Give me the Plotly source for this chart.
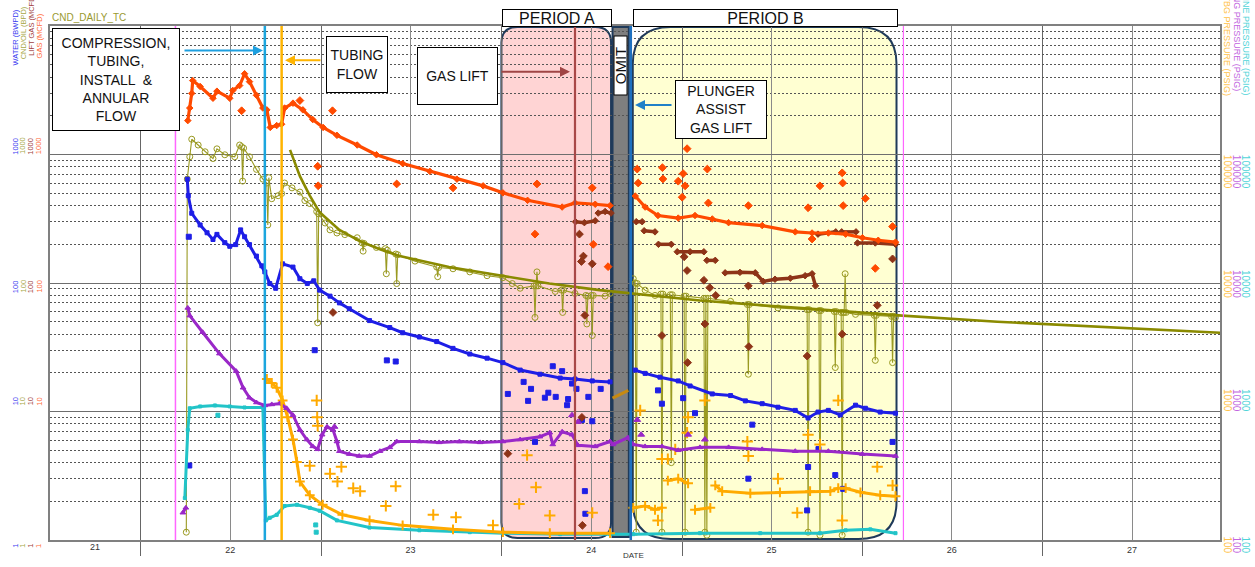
import plotly.graph_objects as go
import pandas as pd

# ---------------- data ----------------
# left axis: GAS (MCFD)
gas = [("2022-04-06",1835),("2022-04-10",2300),("2022-04-14",2990),("2022-04-16",3760),("2022-05-01",3380),
       ("2022-05-27",2740),("2022-06-04",3110),("2022-06-30",2740),("2022-07-06",3150),("2022-07-20",3440),
       ("2022-07-30",4250),("2022-08-09",3690),("2022-08-23",2890),("2022-09-05",2300),("2022-09-13",2225),
       ("2022-09-20",1625),("2022-10-03",1680),("2022-10-13",1720),("2022-10-19",2300),("2022-11-05",2510),
       ("2022-11-25",2225),("2022-12-15",1870),("2023-01-05",1625),("2023-02-02",1410),("2023-03-15",1185),
       ("2023-04-23",995),("2023-06-15",850),("2023-08-09",740),("2023-10-03",643),("2023-11-25",570),
       ("2024-01-04",503),("2024-02-23",440),("2024-05-03",390),("2024-05-29",420),("2024-07-09",410),
       ("2024-08-08",400),("2024-09-01",None),("2024-09-28",475),("2024-10-18",390),("2024-11-13",335),
       ("2024-12-24",320),("2025-01-27",335),("2025-03-03",315),("2025-04-05",295),("2025-06-12",280),
       ("2025-08-18",250),("2025-09-21",245),("2025-10-24",245),("2025-11-28",240),("2026-01-01",225),
       ("2026-02-02",215),("2026-03-09",208)]
gas_out = [("2022-07-24",2190),("2022-11-19",2630),("2022-12-25",810),("2022-12-26",571),("2023-01-24",2190),
           ("2023-06-03",590),("2023-09-25",550),("2024-03-13",590),("2024-03-09",240),("2024-07-03",550),
           ("2024-07-05",200),("2024-08-04",134),("2024-10-02",770),("2024-10-04",600),("2024-11-22",790),
           ("2024-11-23",645),("2024-12-24",620),("2025-01-01",465),("2025-01-03",710),("2025-01-07",570),
           ("2025-01-11",1110),("2025-02-21",770),("2025-02-23",420),("2025-05-15",400),("2025-09-13",385),
           ("2025-09-21",220),("2025-10-07",570),("2025-11-21",720),("2025-11-22",600),("2025-11-23",400),
           ("2026-01-07",455),("2026-01-27",130),("2026-03-03",275)]

# left axis: LIFT GAS (MCFD)
lift = [("2024-05-30",300),("2024-06-17",295),("2024-07-09",305),("2024-07-12",None),("2024-07-15",350),
        ("2024-07-29",360),("2024-08-10",350),("2024-09-01",None),("2024-09-30",300),("2024-10-12",300),
        ("2024-10-14",None),("2024-10-16",255),("2024-11-07",250),("2024-11-10",None),("2024-11-14",200),
        ("2024-12-10",200),("2024-12-18",None),("2024-12-22",175),("2025-01-17",175),("2025-02-14",175),
        ("2025-02-17",None),("2025-02-20",150),("2025-03-09",150),("2025-03-20",None),("2025-03-29",120),
        ("2025-04-28",121),("2025-05-29",120),("2025-06-14",103),("2025-07-08",107),("2025-08-08",109),
        ("2025-09-07",114),("2025-09-21",118),("2025-09-28",95),("2025-10-01",None),("2025-10-03",240),
        ("2025-11-08",250),("2025-11-12",None),("2025-11-20",250),("2025-12-19",250),("2025-12-20",None),
        ("2025-12-22",205),("2026-01-27",205),("2026-03-09",200)]
lift_out = [("2024-06-07",240),("2024-06-11",147),("2024-06-15",162),("2024-07-03",141),("2024-06-18",56),
            ("2024-06-12",9),("2024-01-14",4.7),("2024-06-13",1.3),("2025-01-05",160),("2025-01-11",125),
            ("2025-02-14",105),("2025-02-26",92),("2025-03-10",80),("2025-05-15",95),("2024-11-21",39),
            ("2025-01-12",24),("2025-02-16",48),("2025-05-16",32),("2025-09-11",27),("2025-11-21",40),
            ("2026-01-31",67),("2026-03-03",154),("2023-01-25",59)]

# left axis: CND/OIL (BPD)
oil = [("2022-04-03",1.15),("2022-04-05",643),("2022-04-10",960),("2022-04-14",1315),("2022-04-27",1185),
       ("2022-05-11",1050),("2022-05-27",930),("2022-06-04",1107),("2022-06-20",995),("2022-07-10",960),
       ("2022-07-20",1185),("2022-07-24",1150),("2022-07-26",621),("2022-07-28",1120),("2022-08-09",960),
       ("2022-08-23",766),("2022-09-05",643),("2022-09-13",600),("2022-09-15",283),("2022-09-17",660),
       ("2022-09-23",453),("2022-10-06",478),("2022-10-13",497),("2022-10-19",600),("2022-11-03",550),
       ("2022-11-19",510),("2022-11-29",438),("2022-12-09",415),("2022-12-23",360),("2022-12-25",49),
       ("2022-12-27",345),("2023-01-09",293),("2023-01-19",259),("2023-02-02",245),("2023-02-18",238),
       ("2023-03-15",225),("2023-03-25",205),("2023-03-27",177),("2023-03-29",203),("2023-04-23",189),
       ("2023-05-11",185),("2023-05-13",118),("2023-05-15",180),("2023-06-01",168),("2023-06-03",99),
       ("2023-06-05",166),("2023-07-10",148),("2023-08-23",133),("2023-08-25",112),("2023-08-27",132),
       ("2023-09-25",129),("2023-10-29",122),("2023-12-03",114),("2024-01-04",110),("2024-01-23",99),
       ("2024-02-08",91),("2024-03-07",95),("2024-03-09",54),("2024-03-11",95),("2024-03-13",122),
       ("2024-03-15",95),("2024-04-19",86),("2024-05-02",88),("2024-05-04",59),("2024-05-06",88),
       ("2024-05-29",83),("2024-06-20",80),("2024-06-22",48),("2024-06-24",79),("2024-07-01",80),
       ("2024-07-03",39),("2024-07-05",80),("2024-07-29",79),("2024-08-08",83),("2024-09-01",None),
       ("2024-09-24",108),("2024-09-28",100),("2024-09-30",1.15),("2024-10-02",99),("2024-10-18",88),
       ("2024-11-07",80),("2024-11-19",82),("2024-11-21",1.15),("2024-11-23",82),("2024-12-08",81),
       ("2024-12-10",4.0),("2024-12-12",81),("2025-01-05",79),("2025-01-07",1.15),("2025-01-09",79),
       ("2025-02-14",76),("2025-02-16",1.15),("2025-02-18",76),("2025-02-20",1.09),("2025-02-22",76),
       ("2025-04-09",72),("2025-05-13",68),("2025-05-15",19.5),("2025-05-17",68),("2025-07-14",64),
       ("2025-09-11",62),("2025-09-13",1.15),("2025-09-15",62),("2025-10-05",61),("2025-10-07",1.09),
       ("2025-10-09",61),("2025-11-05",60),("2025-11-07",22),("2025-11-09",60),("2025-11-19",59),
       ("2025-11-21",1.09),("2025-11-23",59),("2025-11-25",59),("2025-11-27",118),("2025-11-29",59),
       ("2025-12-18",57),("2026-01-25",56),("2026-01-27",25),("2026-01-29",56),("2026-03-01",55),
       ("2026-03-03",24),("2026-03-05",55),("2026-03-09",54)]

# left axis: CND_DAILY_TC type curve
tc = [("2022-10-30",1087),("2022-11-19",678),("2022-12-09",478),("2022-12-29",355),("2023-02-07",259),
      ("2023-03-21",211),("2023-04-30",183),("2023-06-09",162),("2023-09-17",133),("2023-12-29",114),
      ("2024-04-07",99),("2024-07-18",88),("2024-10-28",80),("2025-02-06",73),("2025-08-24",64),
      ("2026-03-15",56),("2026-10-01",50),("2027-04-18",46),("2027-12-26",41)]

# left axis: WATER (BWPD)
water = [("2022-04-05",643),("2022-04-07",478),("2022-04-14",349),("2022-05-01",283),("2022-05-15",246),
         ("2022-05-27",218),("2022-06-04",239),("2022-06-20",206),("2022-06-30",193),("2022-07-12",199),
         ("2022-07-22",259),("2022-07-30",229),("2022-08-09",199),("2022-08-23",162),("2022-09-03",136),
         ("2022-09-09",122),("2022-09-19",99),("2022-10-01",91),("2022-10-15",141),("2022-11-05",133),
         ("2022-11-19",108),("2022-12-04",99),("2022-12-17",104),("2022-12-29",88),("2023-01-19",79),
         ("2023-02-07",70),("2023-02-27",63),("2023-04-09",51),("2023-05-20",45),("2023-06-15",41),
         ("2023-07-19",38),("2023-08-23",35),("2023-09-25",31),("2023-10-29",28),("2023-12-03",26),
         ("2024-01-04",24),("2024-02-08",21),("2024-03-19",19.5),("2024-04-29",18.2),("2024-05-29",17.9),
         ("2024-07-03",17.3),("2024-08-08",17.0),("2024-09-01",None),("2024-09-28",21),("2024-10-18",19.8),
         ("2024-11-17",18.5),("2024-12-24",17.3),("2025-01-17",15.8),("2025-03-03",13.7),("2025-04-09",13.3),
         ("2025-05-09",12.1),("2025-06-12",11.5),("2025-07-14",10.8),("2025-08-18",10.2),("2025-09-13",8.9),
         ("2025-10-03",9.9),("2025-10-24",10.2),("2025-11-17",9.4),("2025-12-18",11.2),("2026-01-07",10.6),
         ("2026-02-06",9.9),("2026-03-09",9.7)]
water_out = [("2022-04-08",229),("2022-04-09",3.8),("2022-12-19",30),("2023-05-14",25),("2023-06-01",24.5),
             ("2024-01-14",13.7),("2024-02-15",17),("2024-02-24",12.1),("2024-03-01",15),("2024-03-09",5.8),
             ("2024-03-29",12.8),("2024-04-05",14),("2024-04-14",22.5),("2024-04-20",13),("2024-05-03",20.6),
             ("2024-05-13",11.2),("2024-05-15",12.5),("2024-05-23",16.5),("2024-06-01",15),("2024-06-12",8.6),
             ("2024-06-18",2.4),("2024-06-19",1.6),("2024-06-25",13),("2024-07-03",8.4),("2024-07-20",15),
             ("2024-11-13",14.6),("2024-11-21",11.5),("2025-01-03",12.7),("2025-01-27",9.7),("2025-05-15",3.0),
             ("2025-05-23",7.9),("2025-09-11",1.7),("2025-09-13",3.7),("2025-10-04",5.1),("2025-11-07",3.2),
             ("2025-11-23",2.5),("2026-03-03",5.8)]

# right axis: CASING PRESSURE (PSIG)
casing = [("2022-03-27",163),("2022-04-02",178),("2022-04-04",None),("2022-04-06",6400),("2022-04-10",5570),
          ("2022-05-06",4140),("2022-06-09",2820),("2022-07-13",2060),("2022-07-27",1530),("2022-08-09",1280),
          ("2022-08-23",1175),("2022-09-09",1115),("2022-09-23",1135),("2022-10-09",1155),("2022-10-23",1060),
          ("2022-11-05",936),("2022-11-19",720),("2022-12-03",605),("2022-12-15",535),("2022-12-25",508),
          ("2023-01-03",660),("2023-01-13",760),("2023-01-25",720),("2023-02-02",584),("2023-02-07",491),
          ("2023-02-27",466),("2023-03-19",450),("2023-04-09",450),("2023-04-30",491),("2023-05-20",526),
          ("2023-06-03",584),("2023-07-19",584),("2023-08-28",575),("2023-10-08",584),("2023-11-19",575),
          ("2024-01-04",584),("2024-02-08",605),("2024-03-19",637),("2024-04-08",684),("2024-04-14",554),
          ("2024-05-03",696),("2024-05-23",660),("2024-06-04",545),("2024-07-09",535),("2024-08-08",584),
          ("2024-08-14",554),("2024-09-13",627),("2024-09-24",554),("2024-10-18",535),("2024-11-21",535),
          ("2024-12-24",499),("2025-02-06",526),("2025-04-05",526),("2025-06-12",508),("2025-08-18",491),
          ("2025-10-24",491),("2026-01-01",466),("2026-03-09",450)]
casing_out = [("2024-05-23",936),("2024-06-04",830),("2024-10-02",860),("2024-10-10",660),("2025-01-13",660),
              ("2025-02-16",605),("2023-01-28",760)]

# right axis: TBG PRESSURE (PSIG)
tubing = [("2022-09-13",1790),("2022-09-23",1670),("2022-10-03",1530),("2022-10-15",1220),("2022-10-25",904),
          ("2022-11-05",605),("2022-11-13",405),("2022-11-19",285),("2022-12-09",223),("2023-01-04",188),
          ("2023-02-13",157),("2023-04-09",142),("2023-06-15",130),("2023-09-25",121),("2024-01-04",115),
          ("2024-04-08",113),("2024-08-08",113),("2024-09-01",None),("2024-09-24",178),("2024-10-18",184),
          ("2024-11-07",172),("2024-11-21",178),("2024-11-27",None),("2024-12-03",290),("2024-12-24",300),
          ("2025-01-13",276),("2025-01-20",None),("2025-01-27",172),("2025-02-27",178),("2025-03-04",None),
          ("2025-03-09",266),("2025-03-23",240),("2025-05-19",231),("2025-07-18",235),("2025-09-17",240),
          ("2025-10-28",240),("2025-11-13",253),("2025-11-28",253),("2025-12-28",235),("2026-02-06",223),
          ("2026-03-09",219)]
tubing_out = [("2022-12-23",1220),("2022-12-24",904),("2022-12-25",773),("2023-01-19",328),("2023-02-11",371),
              ("2023-02-03",285),("2022-12-09",378),("2023-03-07",253),("2023-03-21",240),("2023-06-01",262),
              ("2023-05-12",184),("2023-08-16",157),("2023-10-01",150),("2023-12-15",130),("2024-02-22",457),
              ("2024-03-11",257),("2024-02-06",191),("2024-04-08",155),("2024-07-03",163),("2024-10-08",1020),
              ("2024-12-03",427),("2024-12-18",508),("2025-01-11",684),("2025-01-13",904),("2025-02-16",1220),
              ("2025-05-13",584),("2025-05-15",450),("2025-07-14",300),("2025-08-22",163),("2025-09-13",660),
              ("2025-10-07",554),("2025-11-13",1220),("2025-11-21",142),("2026-01-31",371),("2026-03-03",266),
              ("2024-11-13",142),("2024-11-21",427)]

# right axis: LINE PRESSURE (PSIG)
linep = [("2022-03-31",212),("2022-04-06",720),("2022-04-10",1060),("2022-05-01",1095),("2022-05-31",1115),
         ("2022-06-30",1095),("2022-07-30",1075),("2022-09-05",1075),("2022-09-11",142),("2022-09-19",149),
         ("2022-10-03",157),("2022-10-19",184),("2022-11-13",188),("2022-12-09",178),("2022-12-29",169),
         ("2023-02-02",142),("2023-04-09",125),("2023-07-19",119),("2023-10-29",115),("2024-01-04",113),
         ("2024-04-29",111),("2024-08-08",111),("2024-09-24",111),("2025-02-06",113),("2025-06-08",113),
         ("2025-10-07",113),("2025-11-28",119),("2026-01-17",121),("2026-03-09",113)]
linep_out = [("2022-06-06",936),("2022-12-21",131),("2022-12-22",115)]

# short line drawn inside the omitted interval
omit_seg = [("2024-08-13",1270),("2024-09-14",1460)]

x_ticks = ["2022-07-01","2023-07-01","2024-07-01","2025-07-01","2026-07-01","2027-07-01"]
x_ticktext = ["22","23","24","25","26","27"]
year_lines = ["2022-01-01","2023-01-01","2024-01-01","2025-01-01","2026-01-01","2027-01-01"]
left_ticks = ["1000","100","10","1"]
right_ticks = ["100000","10000","1000","100"]

# ---------------- figure ----------------
FONT = "Liberation Sans, Arial, sans-serif"
W, H = 1255, 567
ML, MR, MT, MB = 50, 35, 26, 14
PW, PH = W - ML - MR, H - MT - MB
X0, X1 = "2021-07-01", "2027-12-26"
t0, t1 = pd.Timestamp(X0), pd.Timestamp(X1)


def split(pairs):
    return [p[0] for p in pairs], [p[1] for p in pairs]


def pxx(x):  # pixel -> paper x
    return (x - ML) / PW


def pxy(y):  # pixel -> paper y
    return (H - MB - y) / PH


def dx(d):  # date -> paper x
    return (pd.Timestamp(d) - t0) / (t1 - t0)


fig = go.Figure()


def add(pairs, color, symbol, size, lw, yaxis="y", mode="lines+markers", mline=1):
    d, v = split(pairs)
    fig.add_trace(go.Scatter(
        x=d, y=v, mode=mode, yaxis=yaxis, connectgaps=False, showlegend=False, hoverinfo="skip",
        line=dict(color=color, width=lw),
        marker=dict(color=color, symbol=symbol, size=size, line=dict(color=color, width=mline))))


C_GAS, C_LIFT, C_OIL, C_WAT = "#FF4A00", "#8E3418", "#9A9A22", "#1E1EE6"
C_CAS, C_TBG, C_LINE = "#9A28C8", "#FFAA00", "#22C4C8"

add(oil, C_OIL, "circle-open", 6, 1.1)
add(tc, "#8A8A00", "circle", 1, 2.6, mode="lines")
add(water, C_WAT, "square", 4, 3)
add(water_out, C_WAT, "square", 5, 0, mode="markers")
add(lift, C_LIFT, "diamond", 5, 3.5)
add(lift_out, C_LIFT, "diamond", 6, 0, mode="markers")
add(gas, C_GAS, "diamond", 5, 3.2)
add(gas_out, C_GAS, "diamond", 6, 0, mode="markers")
add(linep, C_LINE, "square", 3, 3, yaxis="y2")
add(linep_out, C_LINE, "square", 4, 0, yaxis="y2", mode="markers")
add(tubing, C_TBG, "cross-thin", 7, 3, yaxis="y2", mline=2)
add(tubing_out, C_TBG, "cross-thin", 8, 0, yaxis="y2", mode="markers", mline=2)
add(casing, C_CAS, "triangle-up", 5, 3, yaxis="y2")
add(casing_out, C_CAS, "triangle-up", 6, 0, yaxis="y2", mode="markers")
add(omit_seg, "#C88A10", "circle", 1, 3, yaxis="y2", mode="lines")

# DATE marker below axis
fig.add_trace(go.Scatter(x=["2024-09-24"], y=[0.93], mode="markers", cliponaxis=False,
                         marker=dict(symbol="triangle-up", size=13, color="#FF00FF"),
                         showlegend=False, hoverinfo="skip"))

minor_vals = [m * 10 ** e for e in range(0, 4) for m in range(2, 10)]

fig.update_layout(
    width=W, height=H, margin=dict(l=ML, r=MR, t=MT, b=MB),
    paper_bgcolor="white", plot_bgcolor="white", showlegend=False,
    font=dict(family=FONT, color="#333"),
    xaxis=dict(type="date", range=[X0, X1], tickmode="array", tickvals=x_ticks, ticktext=x_ticktext,
               ticks="", showgrid=True, gridcolor="#8a8a8a", gridwidth=1.3, zeroline=False,
               showline=True, linecolor="#808080", linewidth=2, mirror=True,
               tickfont=dict(size=9, color="#333"),
               minor=dict(tickmode="array", tickvals=year_lines, ticks="outside", ticklen=14,
                          tickcolor="#666", tickwidth=1, showgrid=True, gridcolor="#666", gridwidth=1)),
    yaxis=dict(type="log", range=[0, 4], tickmode="array", tickvals=[1, 10, 100, 1000, 10000],
               showticklabels=False, ticks="", showgrid=True, gridcolor="#6e6e6e", gridwidth=1.2,
               zeroline=False, showline=True, linecolor="#808080", linewidth=2, mirror=True,
               minor=dict(tickmode="array", tickvals=minor_vals, showgrid=True, gridcolor="#555",
                          griddash="2px,2px", gridwidth=1, ticks="")),
    yaxis2=dict(type="log", range=[2, 6], overlaying="y", side="right", showgrid=False,
                showticklabels=False, ticks="", zeroline=False, showline=False),
)


def rrect(xa, xb, ya, yb, r):
    rx, ry = r / PW, r / PH
    return (f"M {xa+rx},{yb} L {xb-rx},{yb} Q {xb},{yb} {xb},{yb-ry} "
            f"L {xb},{ya+ry} Q {xb},{ya} {xb-rx},{ya} L {xa+rx},{ya} "
            f"Q {xa},{ya} {xa},{ya+ry} L {xa},{yb-ry} Q {xa},{yb} {xa+rx},{yb} Z")


shapes = []
EDGE = "#1F3A5A"
shapes.append(dict(type="path", xref="paper", yref="paper", layer="below",
                   path=rrect(dx("2024-01-01"), dx("2024-08-10"), pxy(551), pxy(27), 16),
                   fillcolor="#FFD4D4", line=dict(color=EDGE, width=2)))
shapes.append(dict(type="path", xref="paper", yref="paper", layer="below",
                   path=rrect(dx("2024-09-23"), dx("2026-03-11"), pxy(552), pxy(27), 38),
                   fillcolor="#FFFFD2", line=dict(color=EDGE, width=2)))
shapes.append(dict(type="rect", xref="x", yref="paper", layer="between",
                   x0="2024-08-13", x1="2024-09-15", y0=pxy(550), y1=pxy(27),
                   fillcolor="#7f7f7f", line=dict(color=EDGE, width=2)))

vlines = [("2022-03-12", "#FF66FF", 1.5), ("2022-09-09", "#1CA6DE", 2.5), ("2022-10-13", "#FFB400", 2.5),
          ("2024-05-29", "#A84848", 2.2), ("2024-09-19", "#1E70C0", 2.5), ("2026-03-25", "#FF66FF", 1.2)]
for d, c, w in vlines:
    shapes.append(dict(type="line", xref="x", yref="paper", x0=d, x1=d, y0=0, y1=1,
                       line=dict(color=c, width=w), layer="above"))
fig.update_layout(shapes=shapes)

ann = []


def box(text, cx, cy, w, h, size=14, angle=0):
    ann.append(dict(text=text, x=pxx(cx), y=pxy(cy), xref="paper", yref="paper", showarrow=False,
                    xanchor="center", yanchor="middle", width=w, height=h, borderpad=0,
                    bgcolor="white", bordercolor="#000", borderwidth=1, textangle=angle,
                    font=dict(size=size, color="#111", family=FONT), align="center", valign="middle"))


box("COMPRESSION,<br>TUBING,<br>INSTALL  &amp;<br>ANNULAR<br>FLOW", 116, 80.5, 126, 101)
box("TUBING<br>FLOW", 357, 65.5, 60, 55)
box("GAS LIFT", 457.5, 77, 79, 56)
box("PLUNGER<br>ASSIST<br>GAS LIFT", 721, 111.5, 90, 57)
box("PERIOD A", 557, 17.5, 108, 16, size=16)
box("PERIOD B", 765.5, 17.5, 263, 16, size=16)
box("OMIT", 620.5, 67, 58, 12, size=15, angle=-90)


def arrow(hx, tx, y, color):
    ann.append(dict(text="", x=pxx(hx), y=pxy(y), xref="paper", yref="paper", showarrow=True,
                    ax=tx - hx, ay=0, axref="pixel", ayref="pixel", arrowhead=2, arrowsize=1,
                    arrowwidth=2, arrowcolor=color, standoff=0, startstandoff=0))


arrow(263, 183, 51, "#1EA0E0")
arrow(285, 322, 61, "#FFB400")
arrow(570, 500, 73, "#A04545")
arrow(635, 673, 107, "#2080C8")


def label(text, x, y, color, size, angle=0, xanchor="center", yanchor="middle"):
    ann.append(dict(text=text, x=pxx(x), y=pxy(y), xref="paper", yref="paper", showarrow=False,
                    xanchor=xanchor, yanchor=yanchor, textangle=angle,
                    font=dict(size=size, color=color, family=FONT)))


label("CND_DAILY_TC", 50, 17, "#9A9A30", 10, xanchor="left")
label("21", 95, 560, "#333", 9)
ann.append(dict(text="DATE", x="2024-09-24", y=pxy(562), xref="x", yref="paper", showarrow=False,
                yanchor="top", font=dict(size=8, color="#333", family=FONT)))

left_cols = [("WATER (BWPD)", 15.8, 38, "#3A3AF0"), ("CND/OIL (BPD)", 23, 33.5, "#A8A848"),
             ("LIFT GAS (MCFD)", 30.8, 25, "#A04040"), ("GAS (MCFD)", 39.2, 36.5, "#FF6A3A")]
left_tick_y = [149, 293, 411, 559]
for t, x, yc, c in left_cols:
    label(t, x, yc, c, 7.5, angle=-90)
    for tt, ty in zip(left_ticks, left_tick_y):
        label(tt, x, ty, c, 7.5, angle=-90)

right_cols = [("TBG PRESSURE (PSIG)", 1227.5, 46.5, "#FFC24A"),
              ("CASING PRESSURE (PSIG)", 1236.5, 33.5, "#C266E0"),
              ("LINE PRESSURE (PSIG)", 1245.5, 44.5, "#4FD4D8")]
right_tick_y = [175, 290, 410, 558]
for t, x, yc, c in right_cols:
    label(t, x, yc, c, 9, angle=90)
    for tt, ty in zip(right_ticks, right_tick_y):
        label(tt, x, ty, c, 10, angle=90)

fig.update_layout(annotations=ann)
fig.write_html("out.html", config={"displayModeBar": False},
               post_script="document.body.style.margin='0px';document.body.style.padding='0px';"
                           "document.body.style.overflow='hidden';")
